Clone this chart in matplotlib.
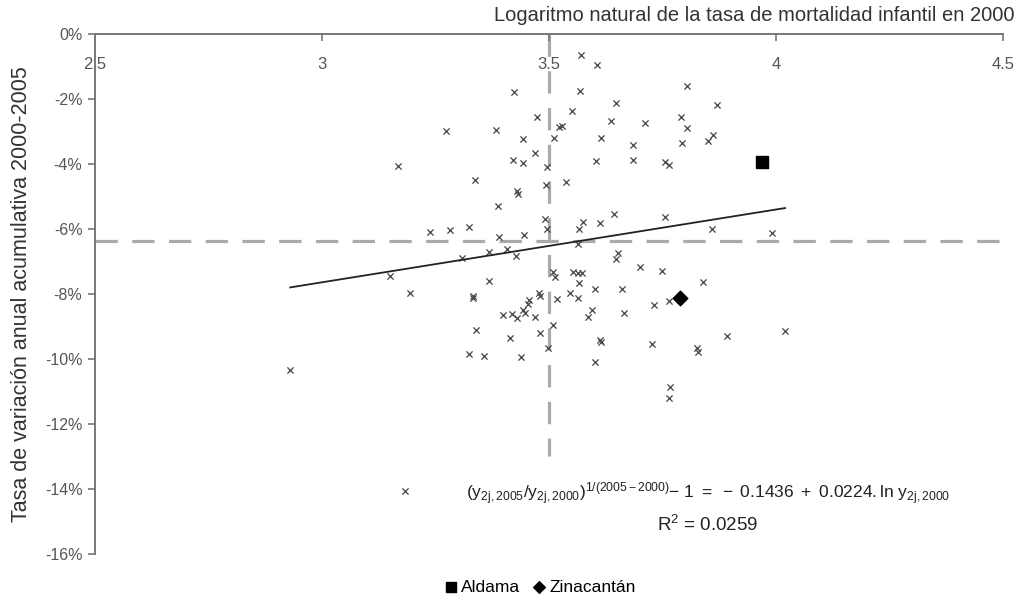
import matplotlib
matplotlib.use("Agg")
import matplotlib.pyplot as plt
import numpy as np

plt.rcParams['font.family'] = ['Liberation Sans', 'DejaVu Sans']
plt.rcParams['mathtext.fontset'] = 'custom'
plt.rcParams['mathtext.rm'] = 'Liberation Sans'
plt.rcParams['mathtext.it'] = 'Liberation Sans'
plt.rcParams['mathtext.bf'] = 'Liberation Sans:bold'

# ln infant mortality 2000 (x) and annual accumulated change 2000-2005 in % (y)
ln_tmi_2000 = [3.571, 3.606, 3.568, 3.423, 3.804, 3.648, 3.870, 3.474, 3.551, 3.637,
               3.711, 3.791, 3.529, 3.522, 3.804, 3.273, 3.383, 3.443, 3.511, 3.615,
               3.685, 3.793, 3.861, 3.850, 3.469, 3.421, 3.443, 3.604, 3.685, 3.756,
               3.764, 3.496, 3.167, 3.337, 3.493, 3.537, 3.430, 3.432, 3.388, 3.491,
               3.575, 3.612, 3.643, 3.756, 3.238, 3.282, 3.324, 3.390, 3.445, 3.496,
               3.566, 3.859, 3.991, 3.564, 3.368, 3.407, 3.427, 3.308, 3.652, 3.648,
               3.150, 3.700, 3.749, 3.509, 3.513, 3.553, 3.564, 3.573, 3.368, 3.566,
               3.839, 3.194, 3.333, 3.333, 3.478, 3.480, 3.456, 3.454, 3.518, 3.546,
               3.564, 3.601, 3.661, 3.731, 3.764, 3.399, 3.419, 3.430, 3.443, 3.447,
               3.469, 3.595, 3.586, 3.665, 3.509, 3.339, 3.480, 3.414, 3.612, 3.615,
               3.727, 3.892, 4.020, 3.826, 3.828, 3.498, 3.324, 3.357, 3.438, 3.601,
               3.767, 3.764, 2.930, 3.183]
tasa_var = [-0.65, -0.95, -1.75, -1.78, -1.60, -2.12, -2.18, -2.55, -2.37, -2.68,
            -2.74, -2.55, -2.83, -2.86, -2.89, -2.98, -2.95, -3.23, -3.20, -3.20,
            -3.42, -3.35, -3.11, -3.29, -3.66, -3.88, -3.97, -3.91, -3.88, -3.94,
            -4.03, -4.09, -4.06, -4.49, -4.65, -4.55, -4.83, -4.92, -5.29, -5.69,
            -5.78, -5.82, -5.54, -5.63, -6.09, -6.03, -5.94, -6.25, -6.18, -6.00,
            -6.00, -6.00, -6.12, -6.46, -6.71, -6.62, -6.83, -6.89, -6.74, -6.92,
            -7.45, -7.17, -7.29, -7.32, -7.48, -7.32, -7.35, -7.35, -7.60, -7.66,
            -7.63, -7.97, -8.06, -8.12, -7.97, -8.06, -8.18, -8.31, -8.15, -7.97,
            -8.12, -7.85, -7.85, -8.34, -8.22, -8.65, -8.62, -8.74, -8.49, -8.58,
            -8.71, -8.49, -8.71, -8.58, -8.95, -9.11, -9.20, -9.35, -9.42, -9.48,
            -9.54, -9.29, -9.14, -9.66, -9.78, -9.66, -9.85, -9.91, -9.94, -10.09,
            -10.86, -11.20, -10.34, -14.06]

aldama = (3.969, -3.94)
zinacantan = (3.789, -8.12)

mean_x = 3.5
mean_y = -6.37
intercept = -0.1436
slope = 0.0224

x_ticks = [2.5, 3, 3.5, 4, 4.5]
x_tick_labels = ['2.5', '3', '3.5', '4', '4.5']
y_ticks = [0, -2, -4, -6, -8, -10, -12, -14, -16]
y_tick_labels = ['0%', '-2%', '-4%', '-6%', '-8%', '-10%', '-12%', '-14%', '-16%']

fig = plt.figure(figsize=(10.19, 5.98), dpi=100)
ax = fig.add_axes([0.0932, 0.0736, 0.8911, 0.8695])
ax.set_xlim(2.5, 4.5)
ax.set_ylim(-16, 0)

grey = '#aaaaaa'
ax.plot([2.5, 4.5], [mean_y, mean_y], color=grey, lw=2.3, dashes=(7, 4.5), zorder=1)
ax.plot([mean_x, mean_x], [0, -13.0], color=grey, lw=2.3, dashes=(7, 4.5), zorder=1)

xx = np.array([min(ln_tmi_2000), max(ln_tmi_2000)])
ax.plot(xx, (intercept + slope * xx) * 100, color='#222222', lw=1.3, zorder=3)

ax.scatter(ln_tmi_2000, tasa_var, marker='x', s=20, color='#444444', linewidths=0.9, zorder=2)
sq = ax.scatter([aldama[0]], [aldama[1]], marker='s', s=70, color='black', zorder=4, label='Aldama')
di = ax.scatter([zinacantan[0]], [zinacantan[1]], marker='D', s=55, color='black', zorder=4, label='Zinacantán')

for s in ['right', 'bottom']:
    ax.spines[s].set_visible(False)
for s in ['left', 'top']:
    ax.spines[s].set_color('#777777')
    ax.spines[s].set_linewidth(1.4)

ax.xaxis.tick_top()
ax.set_xticks(x_ticks)
ax.set_xticklabels(x_tick_labels)
ax.tick_params(axis='x', direction='in', length=5, width=1.2, color='#777777',
               labelsize=12, labelcolor='#555555', pad=-27)
ax.set_yticks(y_ticks)
ax.set_yticklabels(y_tick_labels)
ax.tick_params(axis='y', direction='out', length=5, width=1.2, color='#777777',
               labelsize=11.5, labelcolor='#555555', pad=4)

fig.text(0.996, 0.974, 'Logaritmo natural de la tasa de mortalidad infantil en 2000',
         ha='right', va='center', fontsize=14.5, color='#333333')
fig.text(0.021, 0.508, 'Tasa de variación anual acumulativa 2000-2005', rotation=90,
         ha='center', va='center', fontsize=15.5, color='#333333')

eq = (r'$(\mathrm{y}_{2j,2005}/\mathrm{y}_{2j,2000})^{1/(2005-2000)}$'
      r'$-\ 1\ =\ -\ 0.1436\ +\ 0.0224.\mathrm{ln\ y}_{2j,2000}$')
ax.text(3.85, -14.14, eq, ha='center', va='center', fontsize=12.5, color='#222222')
ax.text(3.85, -15.1, r'$\mathrm{R}^2$ = 0.0259', ha='center', va='center', fontsize=13.5, color='#222222')

fig.legend(handles=[sq, di], loc='center', bbox_to_anchor=(0.528, 0.018), ncol=2,
           frameon=False, fontsize=12.5, handletextpad=0.0, columnspacing=0.5,
           markerscale=0.8, handlelength=1.2, borderpad=0.1)

fig.savefig('out.png', dpi=100)
